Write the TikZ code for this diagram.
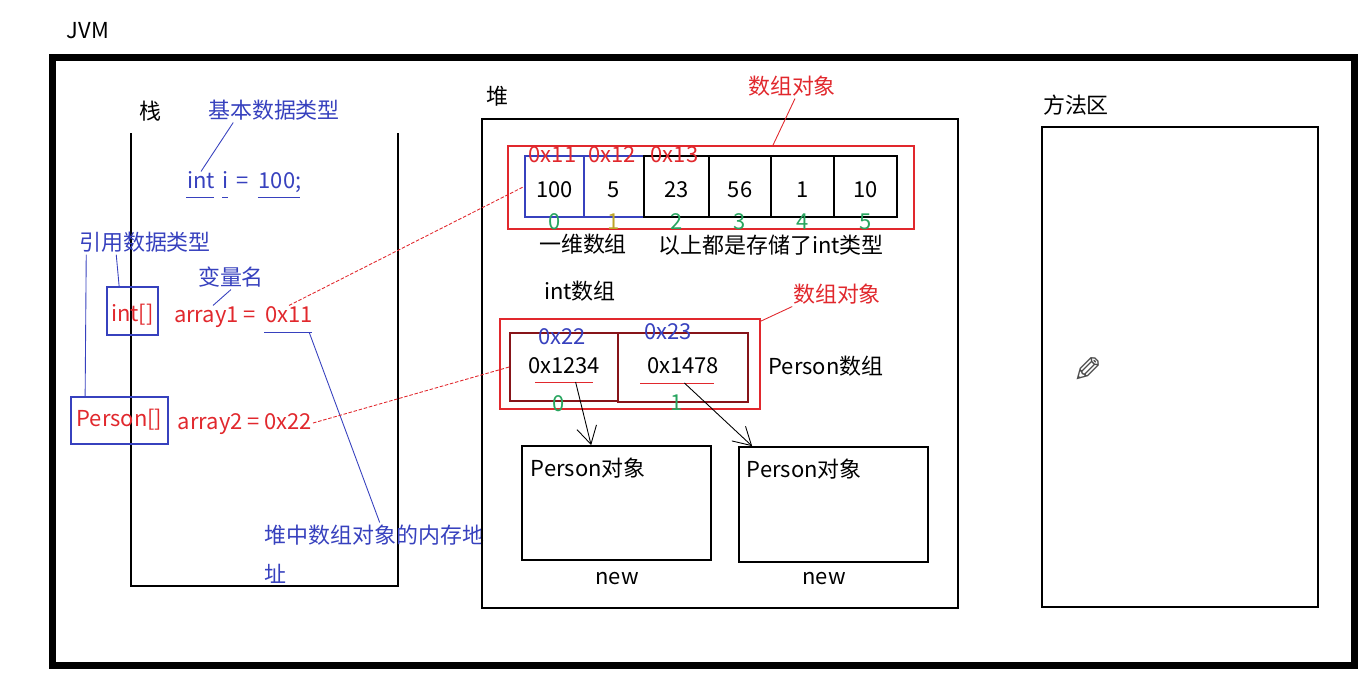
\documentclass[tikz,border=0pt]{standalone}
\usepackage{fontspec}
\setmainfont{Noto Sans CJK SC}
\newfontfamily\symfont{DejaVu Sans}
\usepackage{xcolor}
\usetikzlibrary{positioning,calc,arrows.meta}
\definecolor{penblue}{RGB}{55,65,190}
\definecolor{penred}{RGB}{225,40,45}
\definecolor{pengreen}{RGB}{40,165,95}
\definecolor{penolive}{RGB}{190,165,40}
\definecolor{darkred}{RGB}{135,20,25}
\tikzset{
    lbl/.style={inner sep=0pt, text height=9pt, text depth=2pt, font=\fontsize{12.5}{15}\selectfont},
    bluelbl/.style={lbl, text=penblue},
    redlbl/.style={lbl, text=penred},
    idx/.style={lbl, text=pengreen},
    lowtext/.style={text height=14pt},
    thin line/.style={line width=0.5pt},
    barb/.style={thin line, -{Straight Barb[length=3.5mm, width=4mm]}}
}

\begin{document}
\begin{tikzpicture}[x=0.02cm, y=-0.02cm, line width=1pt]
    \useasboundingbox (0,0) rectangle (1372,694);
    \node[lbl] (jvm) at (88,32) {JVM};
    \draw[line width=0.14cm] (52,57) rectangle (1354,665);

    % stack
    \node[lbl] (stk) at (150,113) {栈};
    \draw (131,133) -- (131,586) -- (398,586) -- (398,133);
    \node[bluelbl] (basic) at (274,112) {基本数据类型};
    \node[bluelbl] (vint) at (201,182) {int};
    \node[bluelbl] (vi) at (226,182) {i};
    \node[bluelbl] (veq) at (243,182) {=};
    \node[bluelbl] (vnum) at (280,182) {100;};
    \foreach \w in {vint, vi, vnum}
        \draw[penblue, thin line] ($(\w.south west)+(0,5)$) -- ($(\w.south east)+(-2,5)$);
    \draw[penblue, thin line] ($(basic.south west)+(26,0)$) -- (vint.north);

    \node[bluelbl] (ref) at (145,244) {引用数据类型};
    \node[bluelbl] (varname) at (231,279) {变量名};
    \node[redlbl, lowtext, draw=penblue, minimum width=1.02cm, minimum height=0.96cm] (tint) at (132.5,311) {int[]};
    \node[redlbl] (a1) at (215,316) {array1 =};
    \node[redlbl] (a1val) at (289,316) {0x11};
    \node[redlbl, draw=penblue, minimum width=1.94cm, minimum height=0.94cm] (tperson) at (119.5,420.5) {Person[]};
    \node[redlbl] (a2) at (245,423) {array2 = 0x22};
    \draw[penblue, thin line] ($(ref.south west)+(38,0)$) -- ($(tint.north west)+(13,0)$);
    \draw[penblue, thin line] ($(ref.south west)+(8,0)$) -- ($(tperson.north west)+(15,0)$);
    \draw[penblue, thin line] (varname.south) -- ($(a1.north)+(-2,0)$);
    \draw[penblue, thin line] ($(a1val.south west)+(0,6)$) -- coordinate[pos=0.95] (ulA) ($(a1val.south east)+(-2,6)$);

    \node[bluelbl, anchor=west] (addr) at (264,537) {堆中数组对象的内存地};
    \node[bluelbl, anchor=west] (addr2) at (264,576) {址};
    \draw[penblue, thin line] (ulA) -- ($(addr.north)+(5,-4)$);

    % heap
    \node[lbl] (hp) at (497,98) {堆};
    \draw (482,119) rectangle (958,608);
    \node[redlbl] (obj1) at (792,88) {数组对象};
    \node[draw=penred, minimum width=8.12cm, minimum height=1.66cm] (intobj) at (711,187.5) {};
    \draw[penred, thin line] ($(obj1.south)+(3,0)$) -- ($(intobj.north)+(62,0)$);
    \foreach \n/\a/\b/\v/\c in {0/525/584/100/penblue, 1/584/644/5/penblue, 2/644/709/23/black, 3/709/771/56/black, 4/771/834/1/black, 5/834/897/10/black}
        \node[lbl, lowtext, draw=\c, minimum width={(\b-\a)*0.02cm}, minimum height=1.22cm] (c\n) at ({(\a+\b)/2},186.5) {\v};
    \foreach \n/\c in {0/pengreen, 1/penolive, 2/pengreen, 3/pengreen, 4/pengreen, 5/pengreen}
        \node[idx, text=\c] at ($(c\n.south)+(0,5)$) {\n};
    \foreach \n/\s in {0/0x11, 1/0x12, 2/0x13}
        \node[redlbl] at ($(c\n.north)+(-2,1)$) {\s};
    \draw[penred, thin line, dash pattern=on 2pt off 1pt] (a1val.north) -- (c0.west);

    \node[lbl] (dim1) at (583,246) {一维数组};
    \node[lbl] (note) at (771,247) {以上都是存储了int类型};
    \node[lbl] (intarr) at (580,293) {int数组};

    \node[redlbl] (obj2) at (837,296) {数组对象};
    \node[draw=penred, minimum width=5.2cm, minimum height=1.8cm] (pobj) at (630,364) {};
    \draw[penred, thin line] (obj2.south west) -- ($(pobj.north east)+(0,3)$);
    \node[lbl, draw=darkred, minimum width=2.16cm, minimum height=1.36cm] (p0) at (564,367) {0x1234};
    \node[lbl, draw=darkred, line width=1.6pt, minimum width=2.6cm, minimum height=1.38cm] (p1) at (683,367.5) {0x1478};
    \node[bluelbl] at (562,338) {0x22};
    \node[bluelbl] at (668,333) {0x23};
    \node[idx] at (559,405) {0};
    \node[idx] at (677,404) {1};
    \draw[penred, thin line] (535,382) -- coordinate[pos=0.7] (u0) (593,382);
    \draw[penred, thin line] (640,383) -- coordinate[pos=0.6] (u1) (714,383);
    \node[lbl] (parr) at (826,368) {Person数组};
    \draw[penred, thin line, dash pattern=on 2pt off 1pt] (a2.east) -- (p0.west);

    \node[draw, minimum width=3.78cm, minimum height=2.28cm] (per0) at (616.5,503) {};
    \node[draw, minimum width=3.78cm, minimum height=2.3cm] (per1) at (833.5,504.5) {};
    \node[lbl, anchor=west] at (530,470) {Person对象};
    \node[lbl, anchor=west] at (746,471) {Person对象};
    \node[lbl] (new0) at (617,578) {new};
    \node[lbl] (new1) at (824,578) {new};
    \draw[barb] (u0) -- ($(per0.north west)+(70,0)$);
    \draw[barb] (u1) -- ($(per1.north west)+(14,0)$);

    % method area
    \node[lbl] (ma) at (1076,107) {方法区};
    \draw (1042,127) rectangle (1318,607);
    \node[inner sep=0pt, text=black!70, font=\symfont\fontsize{20}{20}\selectfont, xscale=-1, transform shape] (pen) at (1088,370) {✎};
\end{tikzpicture}
\end{document}
